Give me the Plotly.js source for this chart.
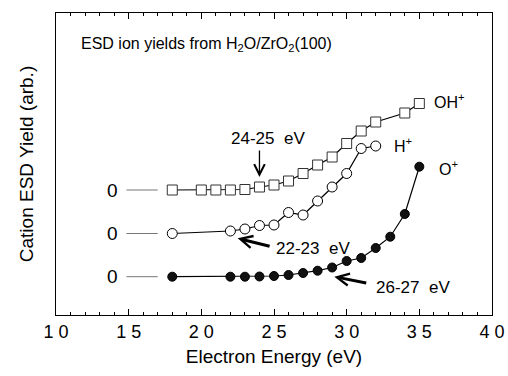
<!DOCTYPE html>
<html><head><meta charset="utf-8">
<script src="https://cdn.plot.ly/plotly-3.0.1.min.js"></script>
<style>html,body{margin:0;padding:0;background:#fff}#g{width:508px;height:376px}</style>
</head><body><div id="g"></div>
<script>
// Data (y in arbitrary units; each series carries its own vertical offset)
var ohX = [18,20,21,22,23,24,25,26,27,28,29,30,31,32,34,35];
var ohY = [125,125,125,125,125.5,128,130,134,141.5,150,158,171.5,184,193,202,211.5];
var hX  = [18,22,23,24,25,26,27,28,29,30,31,32];
var hY  = [81.5,84,86,89.5,90,102.5,100,114,128,141.5,166.5,169];
var oX  = [18,22,23,24,25,26,27,28,29,30,31,32,33,34,35];
var oY  = [38.3,38.3,38.3,38.5,39,40,42,44.3,47.5,54,57,67,78.3,101,148.3];
var zeroLevels = [125,81.5,38.3];
var zeroLineX = [14.85,17.0];
var zeroLabelX = 13.9;
var xTickVals = [10,15,20,25,30,35,40];
var xTickText = ["1 0","1 5","2 0","2 5","3 0","3 5","4 0"];

var F = "Liberation Sans, Arial, Helvetica, sans-serif";
var traces = [];
zeroLevels.forEach(function(z){
  traces.push({x: zeroLineX, y:[z,z], mode:'lines', line:{color:'#777', width:1}, showlegend:false, hoverinfo:'skip'});
});
traces.push({x:oX, y:oY, mode:'lines+markers', line:{color:'#000', width:1.2},
  marker:{symbol:'circle', size:9, color:'#111', line:{color:'#000', width:1}}, showlegend:false});
traces.push({x:hX, y:hY, mode:'lines+markers', line:{color:'#000', width:1.2},
  marker:{symbol:'circle', size:10, color:'#fff', line:{color:'#000', width:1}}, showlegend:false});
traces.push({x:ohX, y:ohY, mode:'lines+markers', line:{color:'#000', width:1.2},
  marker:{symbol:'square', size:10, color:'#fff', line:{color:'#333', width:1}}, showlegend:false});

var anns = [];
zeroLevels.forEach(function(z){
  anns.push({x:zeroLabelX, y:z, xref:'x', yref:'y', text:'0', showarrow:false, font:{family:F, size:19, color:'#000'}});
});
anns.push({x:0.053, y:0.895, xref:'paper', yref:'paper', xanchor:'left', yanchor:'middle', showarrow:false,
  text:'ESD ion yields from H<sub>2</sub>O/ZrO<sub>2</sub>(100)', font:{family:F, size:16, color:'#000'}});
anns.push({x:35.9, y:214, xref:'x', yref:'y', xanchor:'left', showarrow:false, text:'OH<sup>+</sup>', font:{family:F, size:16, color:'#000'}});
anns.push({x:33.1, y:170, xref:'x', yref:'y', xanchor:'left', showarrow:false, text:'H<sup>+</sup>', font:{family:F, size:16, color:'#000'}});
anns.push({x:36.2, y:147, xref:'x', yref:'y', xanchor:'left', showarrow:false, text:'O<sup>+</sup>', font:{family:F, size:16, color:'#000'}});
// callouts
anns.push({x:24.6, y:177, xref:'x', yref:'y', showarrow:false, text:'24-25  eV', font:{family:F, size:17, color:'#000'}});
anns.push({x:24.0, y:138, ax:24.0, ay:166, xref:'x', yref:'y', axref:'x', ayref:'y', text:'', showarrow:true,
  arrowhead:5, arrowsize:1.6, arrowwidth:1.3, arrowcolor:'#000'});
anns.push({x:25.0, y:67, xref:'x', yref:'y', xanchor:'left', showarrow:false, text:'22-23  eV', font:{family:F, size:17, color:'#000'}});
anns.push({x:22.5, y:76.7, ax:24.8, ay:68.3, xref:'x', yref:'y', axref:'x', ayref:'y', text:'', showarrow:true,
  arrowhead:5, arrowsize:0.8, arrowwidth:3, arrowcolor:'#000'});
anns.push({x:31.9, y:28, xref:'x', yref:'y', xanchor:'left', showarrow:false, text:'26-27  eV', font:{family:F, size:17, color:'#000'}});
anns.push({x:29.15, y:38.3, ax:31.45, ay:31.7, xref:'x', yref:'y', axref:'x', ayref:'y', text:'', showarrow:true,
  arrowhead:5, arrowsize:0.8, arrowwidth:3, arrowcolor:'#000'});

var layout = {
  width:508, height:376, paper_bgcolor:'#fff', plot_bgcolor:'#fff',
  margin:{l:56, r:16, t:13, b:61},
  font:{family:F, color:'#000'},
  xaxis:{range:[10,40], tickvals:xTickVals, ticktext:xTickText, ticks:'inside', ticklen:6, tickwidth:1, tickcolor:'#000',
    minor:{dtick:1, ticks:'inside', ticklen:3, tickcolor:'#000'},
    showline:true, linecolor:'#000', linewidth:1.2, mirror:'ticks', showgrid:false, zeroline:false,
    tickfont:{family:F, size:18}, title:{text:'Electron Energy (eV)', font:{family:F, size:19}, standoff:9}},
  yaxis:{range:[0,302], showticklabels:false, ticks:'', showline:true, linecolor:'#000', linewidth:1.2, mirror:true,
    showgrid:false, zeroline:false, title:{text:'Cation ESD Yield (arb.)', font:{family:F, size:19}, standoff:16}},
  annotations:anns
};
Plotly.newPlot('g', traces, layout, {staticPlot:true});
</script></body></html>
